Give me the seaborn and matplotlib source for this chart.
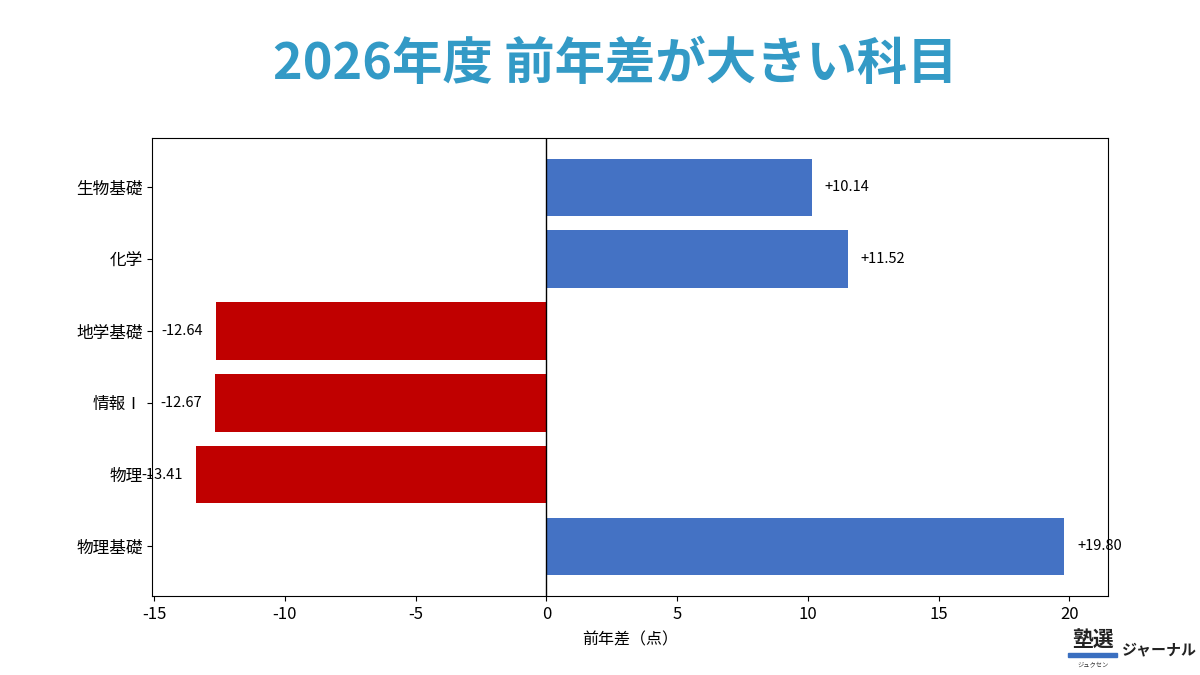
import matplotlib
matplotlib.use("Agg")
import matplotlib.pyplot as plt
import matplotlib.patches as mpatches
import seaborn as sns

plt.rcParams['font.family'] = ['Noto Sans CJK JP', 'DejaVu Sans']
plt.rcParams['axes.unicode_minus'] = False

subjects = ["生物基礎", "化学", "地学基礎", "情報Ⅰ", "物理", "物理基礎"]
diffs = [10.14, 11.52, -12.64, -12.67, -13.41, 19.80]
labels = ["+10.14", "+11.52", "-12.64", "-12.67", "-13.41", "+19.80"]

blue = "#4472C4"
red = "#C00000"
colors = [blue if d >= 0 else red for d in diffs]

fig = plt.figure(figsize=(12, 6.75), dpi=100)
ax = fig.add_axes([0.127, 0.117, 0.796, 0.679])

sns.barplot(x=diffs, y=subjects, hue=subjects, palette=colors, orient="h",
            width=0.8, legend=False, ax=ax, saturation=1)

ax.set_ylim(5.69, -0.69)
ax.axvline(0, color="black", linewidth=1)

for i, (d, lab) in enumerate(zip(diffs, labels)):
    if d >= 0:
        ax.text(d + 0.5, i, lab, va="center", ha="left", fontsize=10.5)
    else:
        ax.text(d - 0.5, i, lab, va="center", ha="right", fontsize=10.5)

ax.set_xticks([-15, -10, -5, 0, 5, 10, 15, 20])
ax.tick_params(axis="both", labelsize=12)
ax.set_xlabel("前年差（点）", fontsize=11.5, labelpad=6)
ax.set_ylabel("")

fig.text(0.513, 0.905, "2026年度 前年差が大きい科目", ha="center", va="center",
         fontsize=36.3, fontweight="bold", color="#339AC6")

# logo
fig.text(0.9105, 0.051, "塾選", ha="center", va="center", fontsize=15,
         fontweight="bold", color="#222222")
fig.add_artist(mpatches.Rectangle((0.890, 0.027), 0.041, 0.006,
                                  transform=fig.transFigure, color="#3A6FC0"))
fig.text(0.911, 0.016, "ジュクセン", ha="center", va="center", fontsize=4.5,
         color="#333333")
fig.text(0.935, 0.038, "ジャーナル", ha="left", va="center", fontsize=10.8,
         fontweight="bold", color="#222222")

fig.savefig("out.png", dpi=100)
